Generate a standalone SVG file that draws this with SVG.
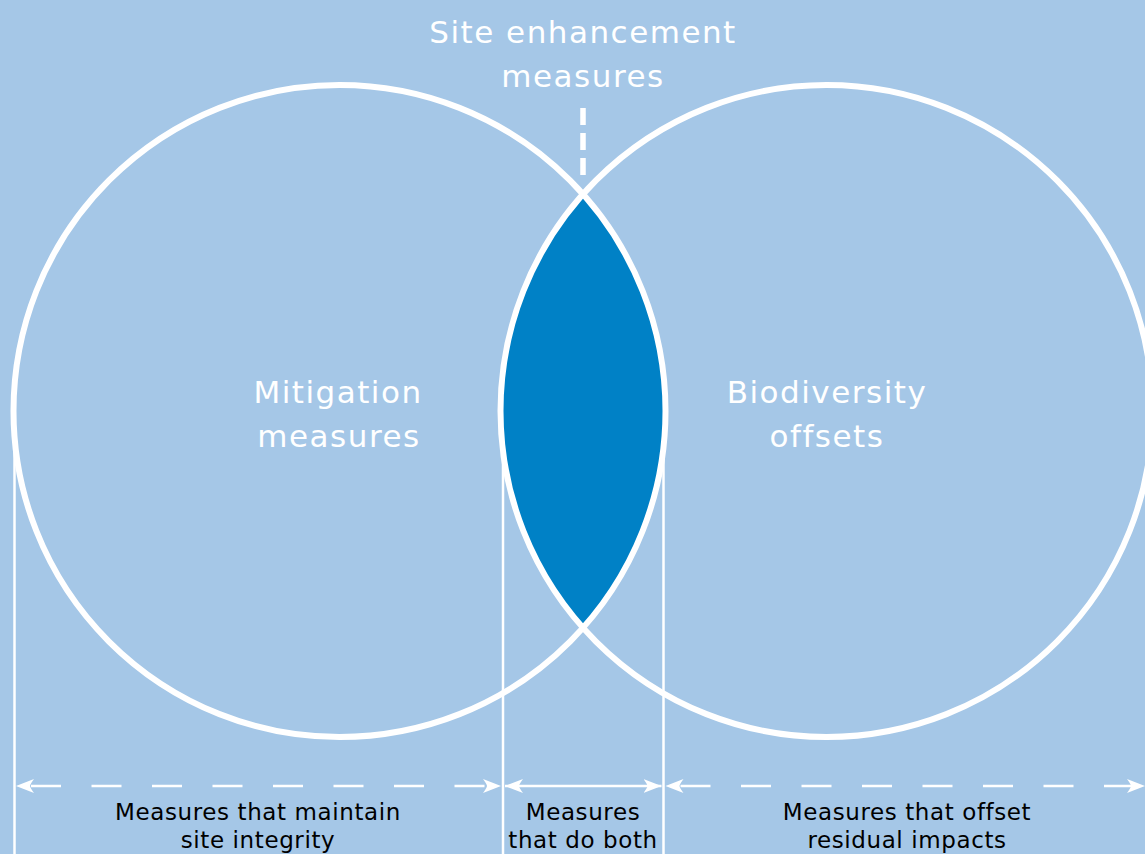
<svg xmlns="http://www.w3.org/2000/svg" width="1145" height="854" viewBox="0 0 1145 854">
  <defs>
    <style>
      .bg { fill: #a5c7e7; }
      .circle { fill: none; stroke: #ffffff; stroke-width: 6; }
      .lens { fill: #0081c6; }
      .guide { stroke: #ffffff; stroke-width: 2.5; fill: none; }
      .arrow { stroke: #ffffff; stroke-width: 2.5; fill: none; marker-start: url(#head); marker-end: url(#head); }
      .dashed { stroke-dasharray: 30 30.5; stroke-dashoffset: 45.5; }
      .big { font-family: "DejaVu Sans", "Liberation Sans", sans-serif; font-size: 31px; fill: #ffffff; text-anchor: middle; letter-spacing: 1.5px; }
      .small { font-family: "DejaVu Sans", "Liberation Sans", sans-serif; font-size: 23px; fill: #000000; text-anchor: middle; letter-spacing: 0.6px; }
    </style>
    <marker id="head" markerUnits="userSpaceOnUse" markerWidth="19" markerHeight="15" refX="18" refY="7.5" orient="auto-start-reverse" viewBox="0 0 19 15">
      <path d="M18,7.5 L0,0.5 Q4,6 4,7.5 Q4,9 0,14.5 Z" fill="#ffffff"/>
    </marker>
  </defs>

  <rect class="bg" x="0" y="0" width="1145" height="854"/>

  <g id="guides">
    <line class="guide" x1="14.5" y1="420" x2="14.5" y2="854"/>
    <line class="guide" x1="503" y1="420" x2="503" y2="854"/>
    <line class="guide" x1="663.5" y1="420" x2="663.5" y2="854"/>
  </g>

  <g id="overlap">
    <path class="lens" d="M583,194.2 A326,326 0 0 1 583,627.8 A326,326 0 0 1 583,194.2 Z"/>
  </g>

  <g id="mitigation">
    <circle class="circle" cx="339.5" cy="411" r="326"/>
    <text class="big" x="338" y="403">Mitigation</text>
    <text class="big" x="339" y="447">measures</text>
  </g>

  <g id="offsets">
    <circle class="circle" cx="826.5" cy="411" r="326"/>
    <text class="big" x="827" y="403">Biodiversity</text>
    <text class="big" x="827" y="447">offsets</text>
  </g>

  <g id="enhancement">
    <text class="big" x="583" y="42.5">Site enhancement</text>
    <text class="big" x="583" y="87">measures</text>
  </g>

  <g id="connectors">
    <line x1="583" y1="108" x2="583" y2="177" stroke="#ffffff" stroke-width="5.5" stroke-dasharray="17 8"/>
    <line class="arrow dashed" x1="16" y1="786" x2="501" y2="786"/>
    <line class="arrow" x1="505" y1="786" x2="661.5" y2="786"/>
    <line class="arrow dashed" x1="665.5" y1="786" x2="1145" y2="786"/>
  </g>

  <g id="label-integrity">
    <text class="small" x="258" y="820">Measures that maintain</text>
    <text class="small" x="258" y="848">site integrity</text>
  </g>
  <g id="label-both">
    <text class="small" x="583" y="820">Measures</text>
    <text class="small" x="583" y="848">that do both</text>
  </g>
  <g id="label-offset">
    <text class="small" x="907" y="820">Measures that offset</text>
    <text class="small" x="907" y="848">residual impacts</text>
  </g>
</svg>
